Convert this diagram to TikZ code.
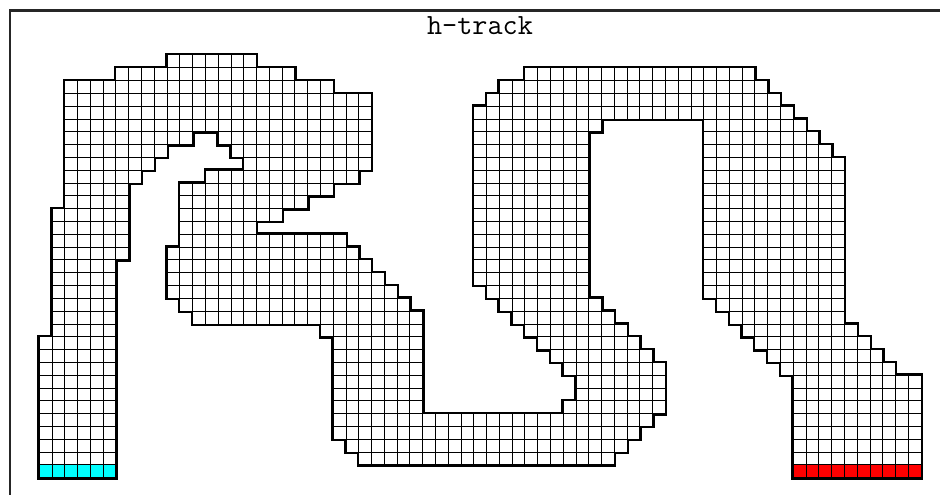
\documentclass[tikz,border=0pt]{standalone}
\usepackage{tikz}

\definecolor{StartCyan}{HTML}{00FFFF}
\definecolor{GoalRed}{HTML}{FF0000}

% grid geometry, in pixels of the 940x495 canvas
\newcommand{\orgX}{39.3}
\newcommand{\orgY}{55.0}
\newcommand{\cellW}{12.78}
\newcommand{\cellH}{12.81}

% row/first column/last column of every run of track cells
\newcommand{\trackRuns}{%
  0/10/16,
  1/6/19, 1/38/55,
  2/2/22, 2/36/56,
  3/2/25, 3/35/57,
  4/2/25, 4/34/58,
  5/2/25, 5/34/43, 5/52/59,
  6/2/11, 6/14/25, 6/34/42, 6/52/60,
  7/2/9, 7/15/25, 7/34/42, 7/52/61,
  8/2/8, 8/16/25, 8/34/42, 8/52/62,
  9/2/7, 9/13/24, 9/34/42, 9/52/62,
  10/2/6, 10/11/22, 10/34/42, 10/52/62,
  11/2/6, 11/11/20, 11/34/42, 11/52/62,
  12/1/6, 12/11/18, 12/34/42, 12/52/62,
  13/1/6, 13/11/16, 13/34/42, 13/52/62,
  14/1/6, 14/11/23, 14/34/42, 14/52/62,
  15/1/6, 15/10/24, 15/34/42, 15/52/62,
  16/1/5, 16/10/25, 16/34/42, 16/52/62,
  17/1/5, 17/10/26, 17/34/42, 17/52/62,
  18/1/5, 18/10/27, 18/35/42, 18/52/62,
  19/1/5, 19/11/28, 19/36/43, 19/53/62,
  20/1/5, 20/12/29, 20/37/44, 20/54/62,
  21/1/5, 21/22/29, 21/38/45, 21/55/63,
  22/0/5, 22/23/29, 22/39/46, 22/56/64,
  23/0/5, 23/23/29, 23/40/47, 23/57/65,
  24/0/5, 24/23/29, 24/41/48, 24/58/66,
  25/0/5, 25/23/29, 25/42/48, 25/59/68,
  26/0/5, 26/23/29, 26/42/48, 26/59/68,
  27/0/5, 27/23/29, 27/41/48, 27/59/68,
  28/0/5, 28/23/47, 28/59/68,
  29/0/5, 29/23/46, 29/59/68,
  30/0/5, 30/24/45, 30/59/68,
  31/0/5, 31/25/44, 31/59/68,
  32/0/5, 32/59/68}

\begin{document}
\begin{tikzpicture}[x=0.75pt,y=-0.75pt,
    border/.style={line width=2pt,draw=black!85},
    gridline/.style={line width=0.75pt,draw=black},
    title/.style={font=\ttfamily\fontsize{22}{22}\selectfont,anchor=base}]
\useasboundingbox (0,0) rectangle (940,495);

% frame, its right and bottom sides lie off the page
\draw[border] (10,500) -- (10,10.7) -- (945,10.7);
\node[title] (title) at (480,34.5) {h-track};

% thick outline: black runs, a little larger than the cells
\foreach \r/\a/\b in \trackRuns {
  \fill[black] ({\orgX+\a*\cellW-1.9},{\orgY+\r*\cellH-1.9})
    rectangle ({\orgX+(\b+1)*\cellW+1.9},{\orgY+(\r+1)*\cellH+1.9});
}
\foreach \r/\a/\b in \trackRuns {
  \fill[white] ({\orgX+\a*\cellW},{\orgY+\r*\cellH})
    rectangle ({\orgX+(\b+1)*\cellW},{\orgY+(\r+1)*\cellH});
}
% start and finish lines
\foreach \a/\b/\col in {0/5/StartCyan, 59/68/GoalRed} {
  \fill[\col] ({\orgX+\a*\cellW},{\orgY+32*\cellH})
    rectangle ({\orgX+(\b+1)*\cellW},{\orgY+33*\cellH});
}
% thin lines round every cell
\foreach \r/\a/\b in \trackRuns {
  \foreach \c in {\a,...,\b} {
    \draw[gridline] ({\orgX+\c*\cellW},{\orgY+\r*\cellH})
      rectangle ({\orgX+(\c+1)*\cellW},{\orgY+(\r+1)*\cellH});
  }
}
\end{tikzpicture}
\end{document}
